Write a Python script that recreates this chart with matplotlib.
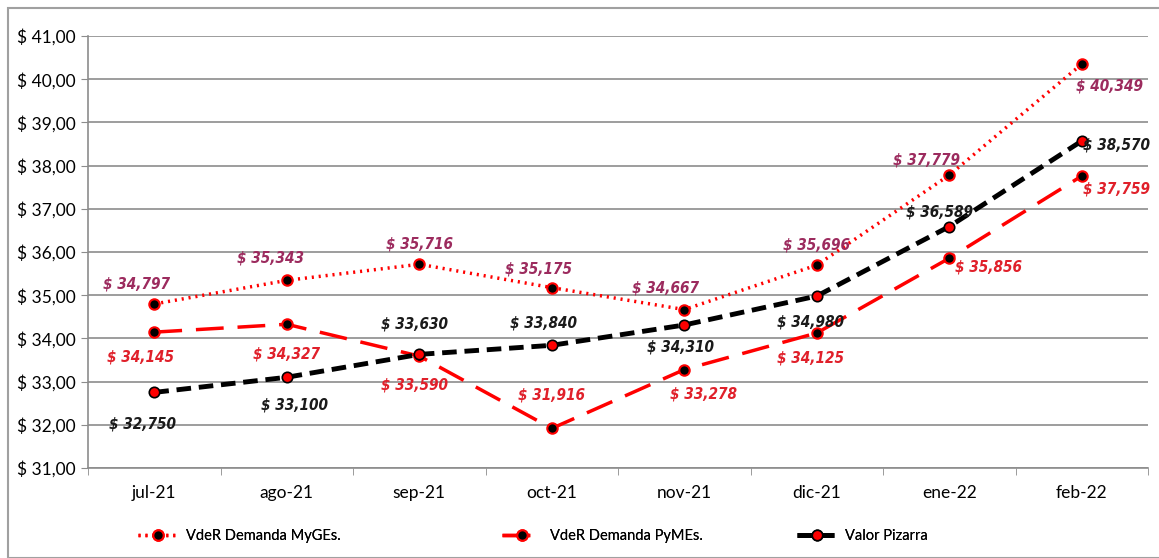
import numpy as np
from matplotlib import pyplot as plt, rcParams as rcP
from matplotlib.patches import Rectangle

# Datos
meses = ["jul-21", "ago-21", "sep-21", "oct-21", "nov-21", "dic-21", "ene-22", "feb-22"]
myges = [34.797, 35.343, 35.716, 35.175, 34.667, 35.696, 37.779, 40.349]
pymes = [34.145, 34.327, 33.590, 31.916, 33.278, 34.125, 35.856, 37.759]
pizarra = [32.750, 33.100, 33.630, 33.840, 34.310, 34.980, 36.589, 38.570]

# Desplazamiento de etiquetas (pixeles)
off_myges = [(-18, 20), (-16, 22), (0, 20), (-13, 19), (-19, 22), (0, 20), (-23, 15), (28, -22)]
off_pymes = [(-14, -25), (0, -30), (-5, -29), (0, 33), (19, -24), (-6, -25), (39, -9), (35, -13)]
off_pizarra = [(-12, -32), (8, -28), (-5, 30), (-8, 22), (-4, -22), (-6, -26), (-10, 15), (35, -4)]

rcP["font.family"] = ["Lato", "DejaVu Sans"]

fig = plt.figure(figsize=(11.59, 5.58), dpi=100)
ax = fig.add_axes([0.076, 0.1613, 0.9145, 0.7742])

x = np.arange(len(meses))
grid_c = "#8c8c8c"

l1, = ax.plot(x, myges, color="red", lw=2.5, ls=(0, (0.6, 1.4)), marker="o", ms=7.5,
              mfc="black", mec="red", mew=1.5, label="VdeR Demanda MyGEs.", zorder=4)
l2, = ax.plot(x, pymes, color="red", lw=2.5, ls=(0, (8, 4)), marker="o", ms=7.5,
              mfc="black", mec="red", mew=1.5, label="VdeR Demanda PyMEs.", zorder=4)
l3, = ax.plot(x, pizarra, color="black", lw=3.5, ls=(0, (3, 1.6)), marker="o", ms=7.5,
              mfc="red", mec="black", mew=1.2, label="Valor Pizarra", zorder=4)


def etiquetas(vals, offs, color):
    for i, (v, o) in enumerate(zip(vals, offs)):
        txt = "$ " + f"{v:.3f}".replace(".", ",")
        ax.annotate(txt, (i, v), xytext=o, textcoords="offset pixels",
                    ha="center", va="center", fontsize=11, fontweight="bold",
                    fontstyle="italic", fontstretch="condensed",
                    family="DejaVu Sans", color=color, zorder=5)


etiquetas(myges, off_myges, "#9c2b5e")
etiquetas(pymes, off_pymes, "#e0202a")
etiquetas(pizarra, off_pizarra, "#1a1a1a")

ax.set_xlim(-0.5, len(meses) - 0.5)
ax.set_ylim(31, 41)
ax.set_yticks(np.arange(31, 42, 1))
ax.set_yticklabels(["$ %d,00" % v for v in range(31, 42)], fontsize=12.5)
ax.set_xticks(x)
ax.set_xticklabels(meses, fontsize=12.5)
ax.set_xticks(np.arange(-0.5, len(meses), 1), minor=True)
ax.tick_params(axis="x", which="major", length=0, pad=12)
ax.tick_params(axis="x", which="minor", length=5, color=grid_c)
ax.tick_params(axis="y", length=5, color=grid_c, pad=4)
ax.grid(axis="y", color=grid_c, lw=1.2)
ax.set_axisbelow(True)
for s in ["top", "right"]:
    ax.spines[s].set_visible(False)
for s in ["left", "bottom"]:
    ax.spines[s].set_color(grid_c)
    ax.spines[s].set_linewidth(1.2)

# Leyenda: una entrada por posicion
for linea, x0 in zip([l1, l2, l3], [138, 502, 797]):
    leg = fig.legend(handles=[linea], loc="center left", bbox_to_anchor=(x0 / 1159, 0.04),
                     frameon=False, prop={"family": "Lato", "size": 10.5},
                     handlelength=2.8, handletextpad=0.5, borderaxespad=0, borderpad=0)
    fig.add_artist(leg)

# Marco exterior
fig.patches.append(Rectangle((0.007, 0.0), 1.2, 0.985, transform=fig.transFigure,
                             fill=False, edgecolor="#a0a0a0", lw=1.5))

fig.savefig("out.png")
